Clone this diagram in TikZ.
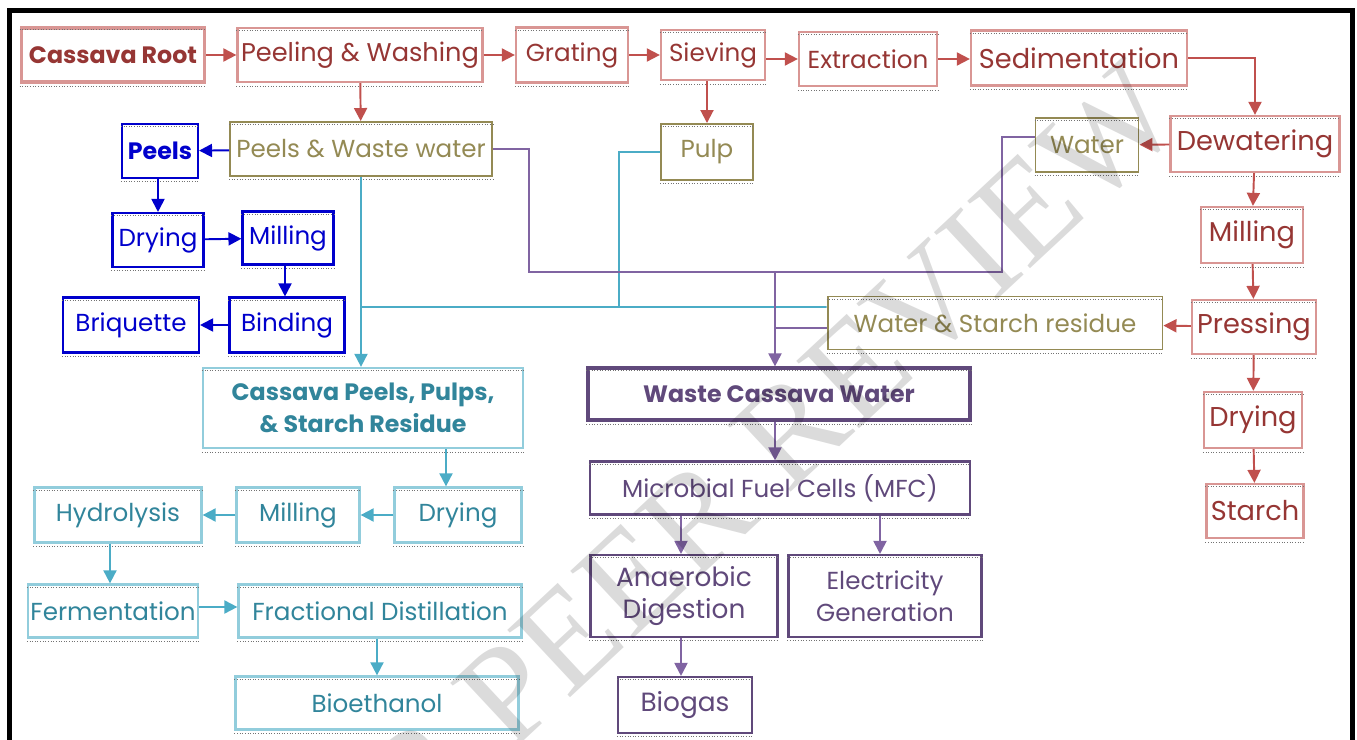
\documentclass[tikz,border=0pt]{standalone}
\usepackage{fontspec}
\setmainfont{Poppins}
\newfontfamily\wmfont{Liberation Serif}
\usetikzlibrary{positioning, arrows.meta, calc}
\definecolor{cvRed}{RGB}{150, 54, 52}
\definecolor{cvRedLine}{RGB}{192, 80, 77}
\definecolor{cvRedEdge}{RGB}{217, 150, 148}
\definecolor{cvOlive}{RGB}{148, 138, 84}
\definecolor{cvBlue}{RGB}{0, 0, 204}
\definecolor{cvCyan}{RGB}{49, 133, 155}
\definecolor{cvCyanLine}{RGB}{75, 172, 198}
\definecolor{cvCyanEdge}{RGB}{146, 205, 220}
\definecolor{cvPurple}{RGB}{96, 73, 123}
\definecolor{cvPurpleLine}{RGB}{128, 100, 162}
\tikzset{
    base/.style={
        font=\fontsize{14}{18}\selectfont,
        align=center,
        rectangle,
        fill=white,
        inner sep=1pt
    },
    big/.style={
        font=\fontsize{15.5}{18}\selectfont
    },
    heavy/.style={
        font=\fontsize{13.5}{18}\selectfont\bfseries
    },
    redbox/.style={
        base,
        draw=cvRedEdge,
        line width=1.3pt,
        text=cvRed
    },
    olivebox/.style={
        base,
        draw=cvOlive,
        line width=1.1pt,
        text=cvOlive
    },
    bluebox/.style={
        base,
        draw=cvBlue,
        line width=1.2pt,
        text=cvBlue
    },
    cyanbox/.style={
        base,
        draw=cvCyanEdge,
        line width=1.3pt,
        text=cvCyan
    },
    purplebox/.style={
        base,
        draw=cvPurple,
        line width=1.2pt,
        text=cvPurple
    },
    hatch/.style={
        densely dotted,
        line width=0.5pt,
        color=black!55
    },
    redflow/.style={
        -{Triangle[length=0.26cm, width=0.26cm]},
        line width=1.1pt,
        color=cvRedLine
    },
    blueflow/.style={
        -{Triangle[length=0.26cm, width=0.26cm]},
        line width=1.1pt,
        color=cvBlue
    },
    cyanline/.style={
        line width=1.1pt,
        color=cvCyanLine
    },
    cyanflow/.style={
        cyanline,
        -{Triangle[length=0.26cm, width=0.26cm]}
    },
    purpleline/.style={
        line width=1.1pt,
        color=cvPurpleLine
    },
    purpleflow/.style={
        purpleline,
        -{Triangle[length=0.26cm, width=0.26cm]}
    }
}

\begin{document}
\begin{tikzpicture}[x=0.02cm, y=-0.02cm]
    \useasboundingbox (0,0) rectangle (1357,740);

    % Frame
    \draw[line width=2.6pt] (9.5,760) -- (9.5,10.5) -- (1352.5,10.5) -- (1352.5,760);

    % Starch line
    \node[redbox, heavy, line width=2.2pt, minimum width=3.66cm, minimum height=1.08cm] (root) at (113,55) {Cassava Root};
    \node[redbox, font=\fontsize{14.6}{18}\selectfont, minimum width=4.9cm, minimum height=1.08cm] (peeling) at (360,55) {Peeling \& Washing};
    \node[redbox, minimum width=2.24cm, minimum height=1.1cm] (grating) at (572,55) {Grating};
    \node[redbox, minimum width=2.08cm, minimum height=1.0cm] (sieving) at (713,55) {Sieving};
    \node[redbox, minimum width=2.76cm, minimum height=1.08cm] (extraction) at (868,59) {Extraction};
    \node[redbox, big, minimum width=4.32cm, minimum height=1.1cm] (sedim) at (1079,58) {Sedimentation};
    \node[redbox, big, minimum width=3.38cm, minimum height=1.12cm] (dewater) at (1255,144) {Dewatering};
    \node[redbox, big, minimum width=2.04cm, minimum height=1.12cm] (rmill) at (1252,235) {Milling};
    \node[redbox, big, minimum width=2.48cm, minimum height=1.08cm] (pressing) at (1254,327) {Pressing};
    \node[redbox, big, minimum width=1.96cm, minimum height=1.12cm] (rdry) at (1253,420) {Drying};
    \node[redbox, big, minimum width=1.94cm, minimum height=1.08cm] (starch) at (1255,511) {Starch};

    % By-products
    \node[olivebox, minimum width=5.24cm, minimum height=1.08cm] (pww) at (361,149) {Peels \& Waste water};
    \node[olivebox, minimum width=1.84cm, minimum height=1.12cm] (pulp) at (707,152) {Pulp};
    \node[olivebox, minimum width=2.06cm, minimum height=1.08cm] (water) at (1087,145) {Water};
    \node[olivebox, minimum width=6.7cm, minimum height=1.06cm] (wsr) at (995,323) {Water \& Starch residue};

    % Briquette line
    \node[bluebox, heavy, minimum width=1.52cm, minimum height=1.08cm] (peels) at (160,151) {Peels};
    \node[bluebox, minimum width=1.82cm, minimum height=1.08cm] (bdry) at (158,240) {Drying};
    \node[bluebox, minimum width=1.82cm, minimum height=1.06cm] (bmill) at (288,238) {Milling};
    \node[bluebox, minimum width=2.3cm, minimum height=1.1cm] (binding) at (287,325) {Binding};
    \node[bluebox, minimum width=2.72cm, minimum height=1.1cm] (briquette) at (131,325) {Briquette};

    % Bioethanol line
    \node[cyanbox, heavy, minimum width=6.4cm, minimum height=1.6cm] (cpsr) at (363,408) {Cassava Peels, Pulps,\\ \& Starch Residue};
    \node[cyanbox, minimum width=2.54cm, minimum height=1.1cm] (cdry) at (458,515) {Drying};
    \node[cyanbox, minimum width=2.46cm, minimum height=1.1cm] (cmill) at (298,515) {Milling};
    \node[cyanbox, minimum width=3.34cm, minimum height=1.1cm] (hydro) at (118,515) {Hydrolysis};
    \node[cyanbox, minimum width=3.4cm, minimum height=1.06cm] (ferment) at (113,611) {Fermentation};
    \node[cyanbox, minimum width=5.66cm, minimum height=1.06cm] (distill) at (380,611) {Fractional Distillation};
    \node[cyanbox, minimum width=5.66cm, minimum height=1.06cm] (ethanol) at (377,703) {Bioethanol};

    % Waste water line
    \node[purplebox, heavy, line width=1.8pt, minimum width=7.64cm, minimum height=1.04cm] (wcw) at (779,394) {Waste Cassava Water};
    \node[purplebox, minimum width=7.6cm, minimum height=1.06cm] (mfc) at (780,488) {Microbial Fuel Cells (MFC)};
    \node[purplebox, font=\fontsize{15}{18}\selectfont, minimum width=3.74cm, minimum height=1.64cm] (anaer) at (684,596) {Anaerobic\\ Digestion};
    \node[purplebox, minimum width=3.86cm, minimum height=1.64cm] (elec) at (885,596) {Electricity\\ Generation};
    \node[purplebox, font=\fontsize{15}{18}\selectfont, minimum width=2.68cm, minimum height=1.12cm] (biogas) at (685,705) {Biogas};

    % Dotted edges of the boxes
    \foreach \n in {root, peeling, grating, sieving, extraction, sedim, dewater, rmill, pressing, rdry, starch,
                    pww, pulp, water, wsr, peels, bdry, bmill, binding, briquette,
                    cpsr, cdry, cmill, hydro, ferment, distill, ethanol,
                    wcw, mfc, anaer, elec, biogas}
        \draw[hatch] ([yshift=-2.2pt]\n.north west) -- ([yshift=-2.2pt]\n.north east)
                     ([yshift=-1.6pt]\n.south west) -- ([yshift=-1.6pt]\n.south east);

    % Starch arrows
    \draw[redflow] (root) -- (peeling);
    \draw[redflow] (peeling) -- (grating);
    \draw[redflow] (grating) -- (sieving);
    \draw[redflow] (sieving.east |- extraction) -- (extraction);
    \draw[redflow] (extraction) -- (sedim.west |- extraction);
    \draw[redflow] (sedim.east) -| (dewater.north);
    \draw[redflow] (dewater) -- (water);
    \draw[redflow] (dewater) -- (rmill);
    \draw[redflow] (rmill) -- (pressing);
    \draw[redflow] (pressing) -- (wsr);
    \draw[redflow] (pressing) -- (rdry);
    \draw[redflow] (rdry) -- (starch);
    \draw[redflow] (peeling) -- (pww);
    \draw[redflow] (sieving.south -| pulp) -- (pulp);

    % Briquette arrows
    \draw[blueflow] (pww) -- (peels);
    \draw[blueflow] (peels.south -| bdry) -- (bdry);
    \draw[blueflow] (bdry) -- (bmill);
    \draw[blueflow] (bmill.south -| 285,0) -- (binding.north -| 285,0);
    \draw[blueflow] (binding) -- (briquette);

    % Solid wastes
    \coordinate (cjoin) at (361,307);
    \draw[cyanflow] (pww.south) -- (pww.south |- cpsr.north);
    \draw[cyanline] ([yshift=0.32cm]wsr.west) -- (cjoin);
    \draw[cyanline] (pulp.west) -- ++(-41,0) |- (cjoin);

    % Liquid wastes
    \coordinate (pjoin) at (775,272);
    \draw[purpleline] (pww.east) -- ++(36,0) |- (pjoin) -- ++(227,0) |- ([yshift=0.16cm]water.west);
    \draw[purpleline] ([yshift=-0.1cm]wsr.west) -| (pjoin);
    \draw[purpleflow] (pjoin) -- (pjoin |- wcw.north);

    % Bioethanol arrows
    \draw[cyanflow] (cpsr.south -| 446,0) -- (cdry.north -| 446,0);
    \draw[cyanflow] (cdry) -- (cmill);
    \draw[cyanflow] (cmill) -- (hydro);
    \draw[cyanflow] (hydro.south -| 110,0) -- (ferment.north -| 110,0);
    \draw[cyanflow] (ferment.east |- 0,607) -- (distill.west |- 0,607);
    \draw[cyanflow] (distill.south -| ethanol) -- (ethanol);

    % Waste water arrows
    \draw[purpleflow] (wcw.south -| pjoin) -- (mfc.north -| pjoin);
    \draw[purpleflow] (mfc.south -| 681,0) -- (anaer.north -| 681,0);
    \draw[purpleflow] (mfc.south -| 880,0) -- (elec.north -| 880,0);
    \draw[purpleflow] (anaer.south -| 681,0) -- (biogas.north -| 681,0);

    % Watermark
    \node[font=\wmfont\fontsize{80}{80}\selectfont, text=black, text opacity=0.14, rotate=43] (mark) at (705,510) {FOR PEER REVIEW};
\end{tikzpicture}
\end{document}
